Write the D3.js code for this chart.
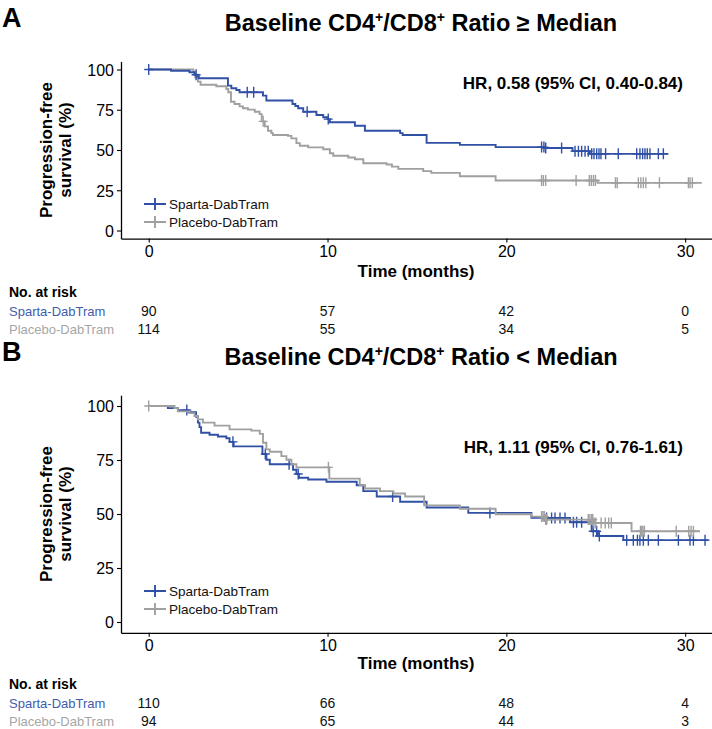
<!DOCTYPE html>
<html><head><meta charset="utf-8">
<script src="https://cdn.jsdelivr.net/npm/d3@7"></script>
<style>
body{margin:0;background:#fff;}
svg{display:block;font-family:"Liberation Sans",Arial,sans-serif;}
</style></head>
<body><svg id="c" width="712" height="729"></svg>
<script>
// ---------- data ----------
const timeTicks = [0, 10, 20, 30];
const survTicks = [0, 25, 50, 75, 100];
const seriesNames = ["Sparta-DabTram", "Placebo-DabTram"];
const riskTimes = [0, 10, 20, 30];

// Panel A : CD4/CD8 ratio >= median
const aSpartaT = [0,1.25,2.28,2.56,2.72,2.8,4.43,4.62,4.9,5.08,6.39,6.58,8.04,8.2,8.36,8.64,9.38,9.76,10.0,10.13,11.53,12.09,14.06,14.2,15.54,17.4,19.4,22.15,23.7,24.67,29.06];
const aSpartaS = [100,99.2,98.3,96.7,95.8,94.6,90.0,88.4,87.3,85.9,83.8,80.7,78.6,77.3,75.9,73.8,71.7,70.3,69.2,67.2,65.1,62.0,60.5,59.3,54.4,53.2,51.8,51.2,49.3,47.6,47.6];
const aSpartaCens = [0,2.65,5.51,5.87,8.86,10.04,21.97,22.1,22.2,23.09,23.84,24.03,24.21,24.4,24.58,24.77,24.9,25.05,25.18,25.29,25.55,26.26,27.29,27.47,27.62,27.75,27.88,28.03,28.5,28.78];
const aPlaceboT = [0,2.5,2.6,2.75,2.9,3.78,4.34,4.45,4.6,4.8,5.08,5.27,5.55,5.93,6.2,6.32,6.49,6.67,6.86,6.95,7.79,7.98,8.26,8.45,8.92,9.76,10.13,10.32,11.16,11.53,12.0,13.3,13.6,13.96,15.35,15.8,17.4,19.4,25.1,30.93];
const aPlaceboS = [100,98.3,95.0,92.5,90.5,89.6,87.9,85.9,80.0,78.6,77.1,75.9,75.1,73.8,72.3,67.8,64.7,62.0,60.5,59.3,58.8,57.2,54.3,52.6,51.6,50.5,48.0,46.4,45.3,44.3,41.8,41.0,39.7,38.3,36.9,35.8,33.7,31.1,29.6,29.6];
const aPlaceboCens = [6.4,21.97,22.07,22.2,23.9,24.64,24.75,24.87,24.98,26.1,26.2,27.38,27.52,27.66,27.8,28.56,30.18,30.27,30.4];
const aRiskSparta = [90, 57, 42, 0];
const aRiskPlacebo = [114, 55, 34, 5];

// Panel B : CD4/CD8 ratio < median
const bSpartaT = [0,1.07,1.63,2.24,2.65,2.75,2.84,2.93,3.4,3.87,4.34,4.52,4.75,6.36,6.58,6.77,8.07,8.26,8.4,8.92,9.94,11.63,12.0,12.75,14.06,15.54,17.87,21.4,23.56,24.77,25.12,26.54,31.3];
const bSpartaS = [100,99.0,98.1,97.1,95.0,92.3,90.2,87.6,86.7,85.9,85.1,83.4,81.3,77.8,75.1,73.0,70.5,68.5,66.8,66.0,64.9,63.3,60.6,58.1,55.7,53.0,50.5,48.2,46.2,42.0,39.8,37.9,37.9];
const bSpartaCens = [2.13,4.71,6.52,7.85,8.36,13.64,19.08,22.25,22.53,22.72,23.0,23.28,23.75,23.93,24.21,24.86,25.05,25.2,26.73,27.1,27.33,27.47,27.66,27.94,28.5,29.62,30.27,30.46,31.11];
const bPlaceboT = [0,1.44,1.63,2.28,2.56,2.75,3.03,3.68,4.52,5.74,6.21,6.39,6.58,6.77,7.42,7.7,7.98,8.26,10.1,11.8,12.1,12.93,13.68,14.34,15.4,17.4,19.4,21.4,22.2,24.9,27.0,30.83];
const bPlaceboS = [100,99.0,97.5,96.7,95.4,93.8,92.3,90.9,89.2,88.6,87.1,83.0,79.9,78.8,76.8,75.1,73.0,71.6,66.4,63.3,61.8,60.6,59.5,58.1,54.0,52.4,49.9,48.8,47.4,45.8,42.0,42.0];
const bPlaceboCens = [0,10.05,21.97,22.05,22.12,22.2,22.25,24.58,24.67,24.77,24.83,24.9,25.0,25.3,25.53,25.72,25.87,27.5,27.57,27.64,27.72,29.5,30.2,30.33,30.46];
const bRiskSparta = [110, 66, 48, 4];
const bRiskPlacebo = [94, 65, 44, 3];

// ---------- styles ----------
const BLUE = "#3050a6", GREY = "#a0a0a0";
const BLUE_TXT = "#3f5cae", GREY_TXT = "#a6a6a6";

const svg = d3.select("#c");

function stepVal(T, S, t) {
  let v = S[0];
  for (let i = 0; i < T.length; i++) { if (T[i] <= t) v = S[i]; else break; }
  return v;
}

function panel(L, letter, titleParts, hr, curves, risk) {
  const x = d3.scaleLinear().domain([-1.55, 31.5]).range([121, 712]);
  const k = (L.y0 - L.y100) / 100;
  const y = d3.scaleLinear().domain([-5, 105]).range([L.y0 + 5 * k, L.y100 - 5 * k]);
  const axisY = L.y0 + 5 * k;
  const g = svg.append("g");

  g.append("text").attr("x", 2).attr("y", L.head + 27).attr("font-size", 27).attr("font-weight", "bold").text(letter);

  const tt = g.append("text").attr("x", 421).attr("y", L.head + 31).attr("text-anchor", "middle")
    .attr("font-size", 23.5).attr("font-weight", "bold");
  let raised = false;
  titleParts.forEach(p => {
    const ts = tt.append("tspan").text(p.t);
    if (p.sup) { ts.attr("dy", -9).attr("font-size", 14); raised = true; }
    else if (raised) { ts.attr("dy", 9); raised = false; }
  });

  // axes
  const ya = g.append("g").attr("transform", "translate(121,0)")
    .call(d3.axisLeft(y).tickValues(survTicks).tickSize(4).tickSizeOuter(0).tickPadding(3));
  const xa = g.append("g").attr("transform", `translate(0,${axisY})`)
    .call(d3.axisBottom(x).tickValues(timeTicks).tickSize(4).tickSizeOuter(0).tickPadding(3));
  [ya, xa].forEach(a => {
    a.selectAll("text").attr("font-size", 16).attr("fill", "#000").attr("font-family", "Liberation Sans, Arial, sans-serif");
    a.select(".domain").attr("stroke", "#000").attr("stroke-width", 1.3);
    a.selectAll(".tick line").attr("stroke", "#000").attr("stroke-width", 1.1);
  });
  ya.selectAll("text").attr("dy", "0.36em");

  const yc = (L.y0 + L.y100) / 2;
  g.append("text").attr("transform", `translate(52,${yc}) rotate(-90)`).attr("text-anchor", "middle")
    .attr("font-size", 17).attr("font-weight", "bold").text("Progression-free");
  g.append("text").attr("transform", `translate(71,${yc}) rotate(-90)`).attr("text-anchor", "middle")
    .attr("font-size", 17).attr("font-weight", "bold").text("survival (%)");
  g.append("text").attr("x", 416).attr("y", L.low + 277).attr("text-anchor", "middle")
    .attr("font-size", 17).attr("font-weight", "bold").text("Time (months)");

  g.append("text").attr("x", 683).attr("y", L.hrY).attr("text-anchor", "end")
    .attr("font-size", 17).attr("font-weight", "bold").text(hr);

  const line = d3.line().x(d => x(d[0])).y(d => y(d[1])).curve(d3.curveStepAfter);
  curves.forEach(c => {
    const pts = c.T.map((t, i) => [t, c.S[i]]);
    g.append("path").attr("d", line(pts)).attr("fill", "none").attr("stroke", c.color).attr("stroke-width", 1.9);
    c.C.forEach(t => {
      const cx = x(t), cy = y(stepVal(c.T, c.S, t));
      g.append("path").attr("d", `M${cx - 4.5},${cy}H${cx + 4.5}M${cx},${cy - 5.5}V${cy + 5.5}`)
        .attr("stroke", c.color).attr("stroke-width", 1.4);
    });
  });

  // legend
  curves.slice().sort((a, b) => a.order - b.order).forEach((c, i) => {
    const ly = L.leg[i];
    g.append("path").attr("d", `M144,${ly}H166M155,${ly - 6}V${ly + 6}`).attr("stroke", c.color).attr("stroke-width", 1.9);
    g.append("text").attr("x", 169).attr("y", ly + 5).attr("font-size", 13.5).attr("fill", "#111").text(c.name);
  });

  // risk table
  g.append("text").attr("x", 9).attr("y", L.low + 297).attr("font-size", 14).attr("font-weight", "bold").text("No. at risk");
  const rowY = [L.low + 316, L.low + 334];
  const rowCol = [BLUE_TXT, GREY_TXT];
  [risk.s, risk.p].forEach((vals, r) => {
    g.append("text").attr("x", 9).attr("y", rowY[r]).attr("font-size", 13).attr("fill", rowCol[r]).text(seriesNames[r]);
    vals.forEach((v, i) => {
      g.append("text").attr("x", x(riskTimes[i])).attr("y", rowY[r]).attr("text-anchor", "middle")
        .attr("font-size", 14).attr("fill", "#111").text(v);
    });
  });
}

panel({head: 0, y100: 69.5, y0: 230.5, hrY: 89, leg: [204, 222], low: 0}, "A",
  [{t: "Baseline CD4"}, {t: "+", sup: true}, {t: "/CD8"}, {t: "+", sup: true}, {t: " Ratio \u2265 Median"}],
  "HR, 0.58 (95% CI, 0.40-0.84)",
  [{name: seriesNames[1], color: GREY, T: aPlaceboT, S: aPlaceboS, C: aPlaceboCens, order: 1},
   {name: seriesNames[0], color: BLUE, T: aSpartaT, S: aSpartaS, C: aSpartaCens, order: 0}],
  {s: aRiskSparta, p: aRiskPlacebo});

panel({head: 334, y100: 406, y0: 622, hrY: 453, leg: [591, 609], low: 392}, "B",
  [{t: "Baseline CD4"}, {t: "+", sup: true}, {t: "/CD8"}, {t: "+", sup: true}, {t: " Ratio < Median"}],
  "HR, 1.11 (95% CI, 0.76-1.61)",
  [{name: seriesNames[0], color: BLUE, T: bSpartaT, S: bSpartaS, C: bSpartaCens, order: 0},
   {name: seriesNames[1], color: GREY, T: bPlaceboT, S: bPlaceboS, C: bPlaceboCens, order: 1}],
  {s: bRiskSparta, p: bRiskPlacebo});
</script></body></html>
